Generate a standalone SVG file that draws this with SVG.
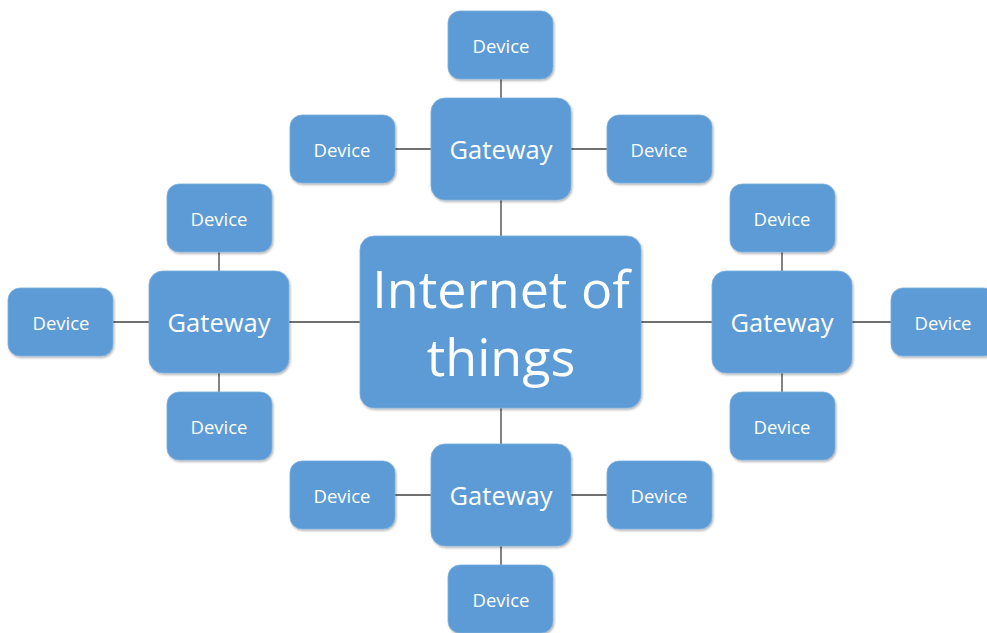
<svg xmlns="http://www.w3.org/2000/svg" width="987" height="633" viewBox="0 0 987 633">
<defs>
<filter id="sh" x="-10%" y="-10%" width="125%" height="125%">
<feDropShadow dx="1" dy="1.5" stdDeviation="1.2" flood-color="#000" flood-opacity="0.3"/>
</filter>
<style>
.box{fill:#5B9BD5;stroke:#7fb0dd;stroke-width:0.8;filter:url(#sh)}
.t{fill:#fff;font-family:"Open Sans","DejaVu Sans",sans-serif;text-anchor:middle;dominant-baseline:central}
.d{font-size:18.5px}
.g{font-size:25.5px}
.c{font-size:52px}
#connectors line{stroke:#404040;stroke-width:1.3}
</style>
</defs>
<rect width="987" height="633" fill="#fff"/>
<g id="connectors">
<line x1="501" y1="79" x2="501" y2="98"/>
<line x1="501" y1="200" x2="501" y2="236"/>
<line x1="395" y1="149" x2="431" y2="149"/>
<line x1="571" y1="149" x2="607" y2="149"/>
<line x1="219" y1="252" x2="219" y2="271"/>
<line x1="219" y1="373" x2="219" y2="392"/>
<line x1="113" y1="322" x2="149" y2="322"/>
<line x1="289" y1="322" x2="360" y2="322"/>
<line x1="782" y1="252" x2="782" y2="271"/>
<line x1="782" y1="373" x2="782" y2="392"/>
<line x1="852" y1="322" x2="891" y2="322"/>
<line x1="641" y1="322" x2="712" y2="322"/>
<line x1="501" y1="408" x2="501" y2="444"/>
<line x1="501" y1="546" x2="501" y2="565"/>
<line x1="395" y1="495" x2="431" y2="495"/>
<line x1="571" y1="495" x2="607" y2="495"/>
</g>
<g id="iot"><rect class="box" x="360" y="236" width="281" height="172" rx="14"/><text class="t c" x="501" y="287">Internet of</text><text class="t c" x="501" y="355">things</text></g>
<g id="gw-top"><rect class="box" x="431" y="98" width="140" height="102" rx="14"/><text class="t g" x="501" y="149">Gateway</text></g>
<g id="gw-left"><rect class="box" x="149" y="271" width="140" height="102" rx="14"/><text class="t g" x="219" y="322">Gateway</text></g>
<g id="gw-right"><rect class="box" x="712" y="271" width="140" height="102" rx="14"/><text class="t g" x="782" y="322">Gateway</text></g>
<g id="gw-bottom"><rect class="box" x="431" y="444" width="140" height="102" rx="14"/><text class="t g" x="501" y="495">Gateway</text></g>
<g id="dev-t1"><rect class="box" x="448" y="11" width="105" height="68" rx="12"/><text class="t d" x="501" y="45">Device</text></g>
<g id="dev-t2"><rect class="box" x="290" y="115" width="105" height="68" rx="12"/><text class="t d" x="342" y="149">Device</text></g>
<g id="dev-t3"><rect class="box" x="607" y="115" width="105" height="68" rx="12"/><text class="t d" x="659" y="149">Device</text></g>
<g id="dev-l1"><rect class="box" x="167" y="184" width="105" height="68" rx="12"/><text class="t d" x="219" y="218">Device</text></g>
<g id="dev-l2"><rect class="box" x="8" y="288" width="105" height="68" rx="12"/><text class="t d" x="61" y="322">Device</text></g>
<g id="dev-l3"><rect class="box" x="167" y="392" width="105" height="68" rx="12"/><text class="t d" x="219" y="426">Device</text></g>
<g id="dev-r1"><rect class="box" x="730" y="184" width="105" height="68" rx="12"/><text class="t d" x="782" y="218">Device</text></g>
<g id="dev-r2"><rect class="box" x="891" y="288" width="105" height="68" rx="12"/><text class="t d" x="943" y="322">Device</text></g>
<g id="dev-r3"><rect class="box" x="730" y="392" width="105" height="68" rx="12"/><text class="t d" x="782" y="426">Device</text></g>
<g id="dev-b1"><rect class="box" x="290" y="461" width="105" height="68" rx="12"/><text class="t d" x="342" y="495">Device</text></g>
<g id="dev-b2"><rect class="box" x="607" y="461" width="105" height="68" rx="12"/><text class="t d" x="659" y="495">Device</text></g>
<g id="dev-b3"><rect class="box" x="448" y="565" width="105" height="68" rx="12"/><text class="t d" x="501" y="599">Device</text></g>
</svg>
